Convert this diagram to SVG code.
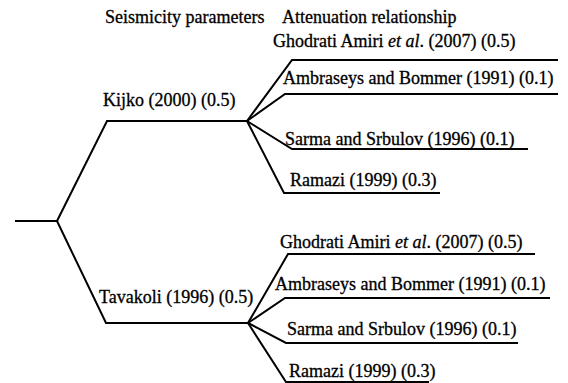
<svg xmlns="http://www.w3.org/2000/svg" width="568" height="383" viewBox="0 0 568 383">
<defs>
<style>
.c{fill:none;stroke:#000;stroke-width:2;stroke-linejoin:miter}
</style>
</defs>
<rect width="568" height="383" fill="#fff"/>
<g id="connectors">
<polyline class="c" points="15,221 57,221"/>
<polyline class="c" points="57,221 107,121 247,121"/>
<polyline class="c" points="57,221 106,323 248,323"/>
<polyline class="c" points="247,121 292,60 558,60"/>
<polyline class="c" points="247,121 285,94 558,94"/>
<polyline class="c" points="247,121 292,149 528,149"/>
<polyline class="c" points="247,121 284,193 440,193"/>
<polyline class="c" points="248,323 288,254 535,254"/>
<polyline class="c" points="248,323 285,298 550,298"/>
<polyline class="c" points="248,323 286,343 518,343"/>
<polyline class="c" points="248,323 286,382 429,382"/>
</g>
<g id="header-seismicity"><text x="105" y="23" font-family="'Liberation Serif', serif" font-size="18" stroke="#000" stroke-width="0.3">Seismicity parameters</text></g>
<g id="header-attenuation"><text x="282" y="23" font-family="'Liberation Serif', serif" font-size="18" stroke="#000" stroke-width="0.3">Attenuation relationship</text></g>
<g id="kijko"><text x="103" y="106" font-family="'Liberation Serif', serif" font-size="18" stroke="#000" stroke-width="0.3">Kijko (2000) (0.5)</text></g>
<g id="tavakoli"><text x="99" y="303" font-family="'Liberation Serif', serif" font-size="18" stroke="#000" stroke-width="0.3">Tavakoli (1996) (0.5)</text></g>
<g id="k-ghodrati"><text x="273" y="47" font-family="'Liberation Serif', serif" font-size="18" stroke="#000" stroke-width="0.3">Ghodrati Amiri <tspan font-style="italic">et al</tspan>. (2007)  (0.5)</text></g>
<g id="k-ambraseys"><text x="283" y="84" font-family="'Liberation Serif', serif" font-size="18" stroke="#000" stroke-width="0.3">Ambraseys and Bommer (1991) (0.1)</text></g>
<g id="k-sarma"><text x="285" y="145" font-family="'Liberation Serif', serif" font-size="18" stroke="#000" stroke-width="0.3">Sarma and Srbulov (1996) (0.1)</text></g>
<g id="k-ramazi"><text x="290" y="186" font-family="'Liberation Serif', serif" font-size="18" stroke="#000" stroke-width="0.3">Ramazi (1999) (0.3)</text></g>
<g id="t-ghodrati"><text x="280" y="248" font-family="'Liberation Serif', serif" font-size="18" stroke="#000" stroke-width="0.3">Ghodrati Amiri <tspan font-style="italic">et al</tspan>. (2007)  (0.5)</text></g>
<g id="t-ambraseys"><text x="275" y="290" font-family="'Liberation Serif', serif" font-size="18" stroke="#000" stroke-width="0.3">Ambraseys and Bommer (1991) (0.1)</text></g>
<g id="t-sarma"><text x="287" y="335" font-family="'Liberation Serif', serif" font-size="18" stroke="#000" stroke-width="0.3">Sarma and Srbulov (1996) (0.1)</text></g>
<g id="t-ramazi"><text x="289" y="377" font-family="'Liberation Serif', serif" font-size="18" stroke="#000" stroke-width="0.3">Ramazi (1999) (0.3)</text></g>
</svg>
